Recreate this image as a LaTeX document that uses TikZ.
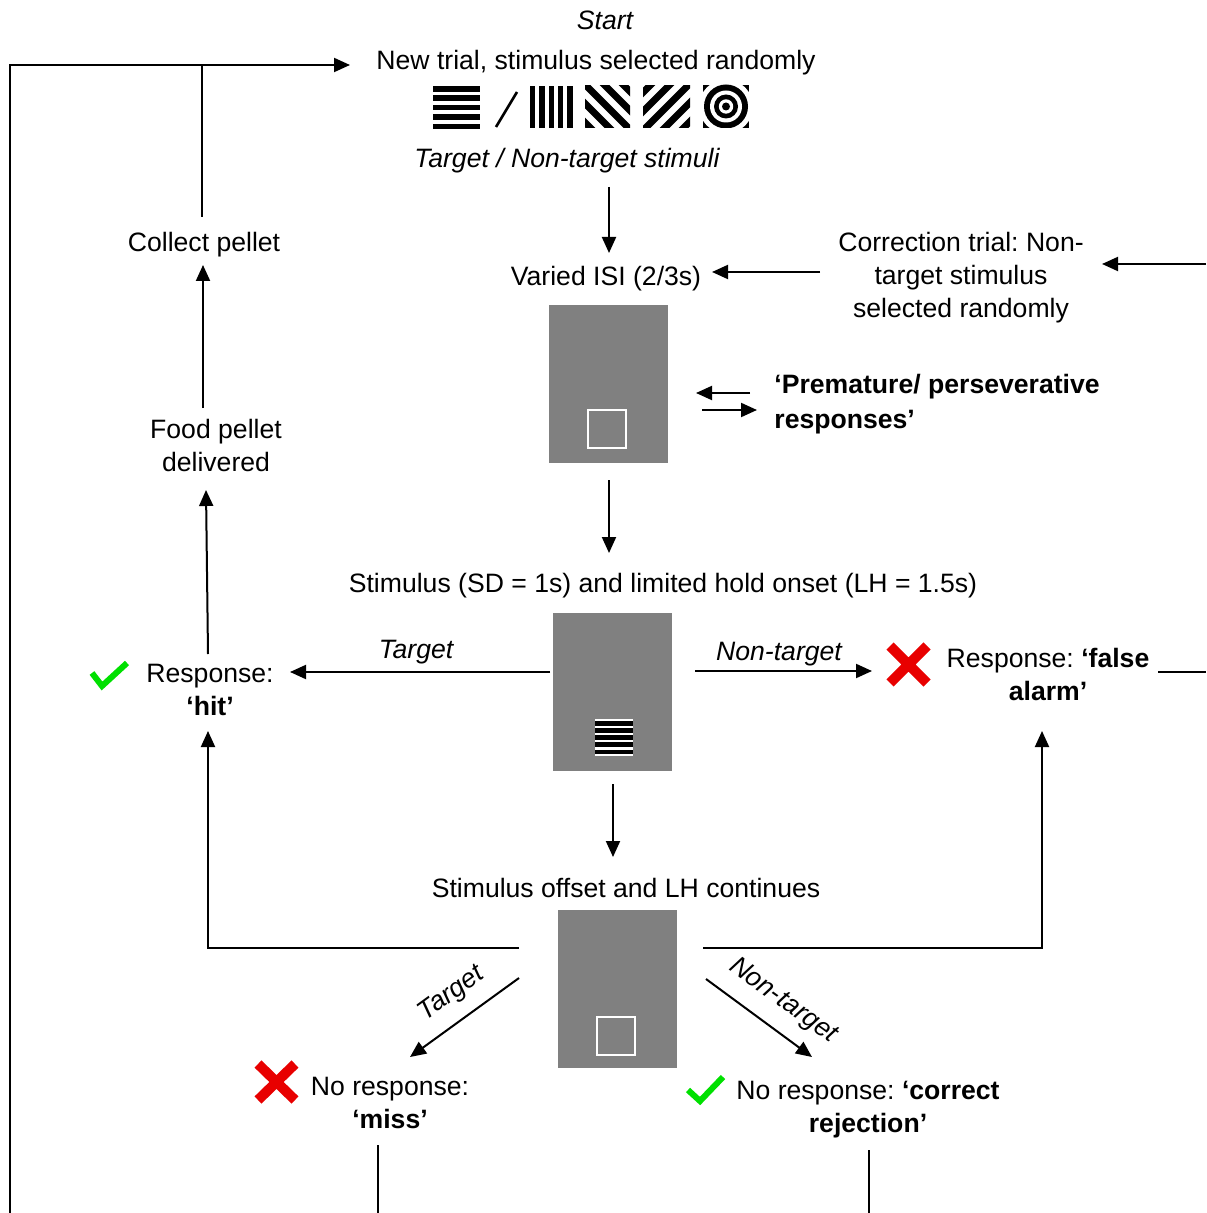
\documentclass[tikz,border=0pt]{standalone}
\usepackage{fontspec}
\setmainfont{Liberation Sans}
\usetikzlibrary{arrows.meta}
\definecolor{boxgray}{RGB}{128,128,128}
\definecolor{okgreen}{RGB}{0,224,0}
\definecolor{badred}{RGB}{232,0,0}
\newcommand{\myfs}{\fontsize{13.3}{16.5}\selectfont\frenchspacing}
\begin{document}
\begin{tikzpicture}[x=0.5pt,y=-0.5pt,
  every node/.style={font=\myfs, inner sep=0pt},
  txt/.style={align=center},
  it/.style={font=\myfs\itshape},
  bf/.style={font=\myfs\bfseries},
  arr/.style={line width=1pt, -{Triangle[length=8pt,width=7pt]}},
  ln/.style={line width=1pt},
  screen/.style={fill=boxgray, minimum width=59.5pt, minimum height=79pt},
  check/.style={okgreen, line width=3pt},
  cross/.style={badred, line width=5pt}]
\fill[white] (0,0) rectangle (1206,1213);
\useasboundingbox (0,0) rectangle (1206,1213);

% ---- texts
\node[it] (start) at (605,20) {Start};
\node (newtrial) at (596,63) {New trial, stimulus selected randomly};
\node[it] (tstim) at (567,161) {Target / Non-target stimuli};
\node (isi) at (606,279) {Varied ISI (2/3s)};
\node[txt] (corr) at (961,278) {Correction trial: Non-\\target stimulus\\selected randomly};
\node (collect) at (204,245) {Collect pellet};
\node[txt] (food) at (216,445) {Food pellet\\delivered};
\node[bf, align=left, anchor=west, font=\fontsize{13.3}{17.5}\selectfont\bfseries] (prem) at (774,404) {‘Premature/ perseverative\\responses’};
\node (stim) at (663,586) {Stimulus (SD = 1s) and limited hold onset (LH = 1.5s)};
\node[txt] (hit) at (210,690) {Response:\\\textbf{‘hit’}};
\node[txt] (fa) at (1048,674) {Response: \textbf{‘false}\\\textbf{alarm’}};
\node (offset) at (626,888) {Stimulus offset and LH continues};
\node[txt] (miss) at (390,1102.5) {No response:\\\textbf{‘miss’}};
\node[txt] (cr) at (868,1110) {No response: \textbf{‘correct}\\\textbf{rejection’}};
\node[it] (lt1) at (416,652) {Target};
\node[it] (lnt1) at (779,654) {Non-target};
\node[it, rotate=36] (lt2) at (452,994) {Target};
\node[it, rotate=-36] (lnt2) at (783,1001) {Non-target};

% ---- stimulus icons
\foreach \i in {0,...,4} \fill (433,{86+\i*9.4}) rectangle (480,{91.6+\i*9.4});
\draw[line width=1.3pt] (496,127) -- (517,92);
\foreach \i in {0,...,4} \fill ({530+\i*9.3},86) rectangle ({535.4+\i*9.3},128);
\begin{scope}
  \clip (585,86) rectangle (630,128);
  \foreach \k in {-3,...,3} \draw[line width=3.5pt] ({70+500.5+\k*19},70) -- ({145+500.5+\k*19},145);
\end{scope}
\begin{scope}
  \clip (643,86) rectangle (690,128);
  \foreach \k in {-3,...,3} \draw[line width=3.5pt] ({773.5+\k*19-70},70) -- ({773.5+\k*19-145},145);
\end{scope}
\begin{scope}
  \clip (703,85) rectangle (749,128);
  \fill (703,85) rectangle (749,128);
  \fill[white] (726,106.5) circle[radius=13.5pt];
  \fill[black] (726,106.5) circle[radius=11pt];
  \fill[white] (726,106.5) circle[radius=8pt];
  \fill[black] (726,106.5) circle[radius=6pt];
  \fill[white] (726,106.5) circle[radius=3.6pt];
  \fill[black] (726,106.5) circle[radius=2pt];
\end{scope}

% ---- screens
\node[screen] (s1) at (608.5,384) {};
\draw[white, line width=1pt] (588,410) rectangle (626,448);
\node[screen] (s2) at (612.5,691.5) {};
\fill[white] (595,719) rectangle (633,756);
\foreach \i in {0,...,4} \fill (595,{720.8+\i*7.2}) rectangle (633,{725.6+\i*7.2});
\node[screen] (s3) at (617.5,989) {};
\draw[white, line width=1pt] (597,1017) rectangle (635,1055);

% ---- marks
\draw[check] (92,673) -- (102,686) -- (127,663);
\draw[cross] (890,646) -- (927,683) (927,646) -- (890,683);
\draw[cross] (258,1064) -- (295,1100) (295,1064) -- (258,1100);
\draw[check] (688,1090) -- (700,1101) -- (723,1077);

% ---- connector end points
\coordinate (loopB) at (10,1213);
\coordinate (loopT) at (10,65);
\coordinate (newIn) at (350,65);
\coordinate (colTop) at (202,65);
\coordinate (colOut) at (202,217);
\coordinate (tsOut) at (609,187);
\coordinate (isiIn) at (609,253);
\coordinate (corOut) at (820,272);
\coordinate (isiR) at (712,272);
\coordinate (corRin) at (1102,264);
\coordinate (corRout) at (1206,264);
\coordinate (pA1) at (750,393);
\coordinate (pA2) at (696,393);
\coordinate (pB1) at (702,410);
\coordinate (pB2) at (757,410);
\coordinate (foodOut) at (203,408);
\coordinate (colIn) at (203,265);
\coordinate (hitOut) at (208,654);
\coordinate (foodIn) at (206,490);
\coordinate (s1Out) at (609,480);
\coordinate (stimIn) at (609,553);
\coordinate (s2L) at (550,672);
\coordinate (hitR) at (290,672);
\coordinate (s2R) at (695,671);
\coordinate (faL) at (872,671);
\coordinate (faOut) at (1158,672);
\coordinate (faOutE) at (1206,672);
\coordinate (s3R) at (703,948);
\coordinate (faC) at (1042,948);
\coordinate (faIn) at (1042,731);
\coordinate (s2Out) at (613,784);
\coordinate (offIn) at (613,857);
\coordinate (s3L) at (519,948);
\coordinate (hitC) at (208,948);
\coordinate (hitIn) at (208,731);
\coordinate (s3Ld) at (519,978);
\coordinate (missIn) at (410,1057);
\coordinate (s3Rd) at (706,979);
\coordinate (crIn) at (812,1057);
\coordinate (missOut) at (378,1145);
\coordinate (missB) at (378,1213);
\coordinate (crOut) at (869,1150);
\coordinate (crB) at (869,1213);

% ---- connectors
\draw[arr] (loopB) -- (loopT) -- (newIn);
\draw[ln] (colOut) -- (colTop);
\draw[arr] (tsOut) -- (isiIn);
\draw[arr] (corOut) -- (isiR);
\draw[arr] (corRout) -- (corRin);
\draw[arr] (pA1) -- (pA2);
\draw[arr] (pB1) -- (pB2);
\draw[arr] (foodOut) -- (colIn);
\draw[arr] (hitOut) -- (foodIn);
\draw[arr] (s1Out) -- (stimIn);
\draw[arr] (s2L) -- (hitR);
\draw[arr] (s2R) -- (faL);
\draw[ln] (faOut) -- (faOutE);
\draw[arr] (s3R) -- (faC) -- (faIn);
\draw[arr] (s2Out) -- (offIn);
\draw[arr] (s3L) -- (hitC) -- (hitIn);
\draw[arr] (s3Ld) -- (missIn);
\draw[arr] (s3Rd) -- (crIn);
\draw[ln] (missOut) -- (missB);
\draw[ln] (crOut) -- (crB);
\end{tikzpicture}
\end{document}
